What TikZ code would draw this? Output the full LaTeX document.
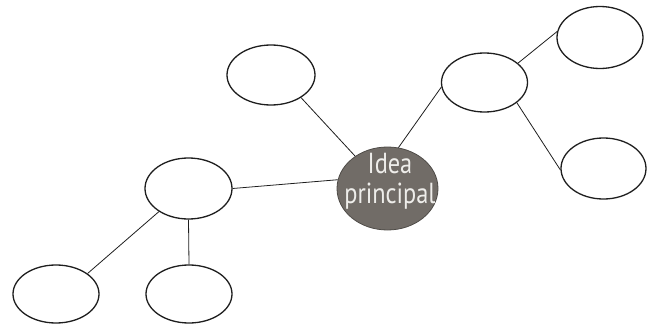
\documentclass[tikz,border=0pt]{standalone}
\usepackage{fontspec}
\setmainfont{PT Sans}
\usetikzlibrary{shapes.geometric}
\definecolor{inkc}{HTML}{1E1E1E}
\definecolor{mainfill}{HTML}{716C67}
\definecolor{maintext}{HTML}{EEEDEA}
\tikzset{
  bubble/.style={ellipse, draw=inkc, line width=1.3pt, inner sep=0pt, minimum width=86pt, minimum height=60pt},
  mainbubble/.style={ellipse, draw=mainfill!70!black, fill=mainfill, line width=0.8pt, inner sep=0pt, minimum width=101pt, minimum height=83pt},
  maintxt/.style={text=maintext, align=center, font=\fontsize{29}{30}\selectfont},
  link/.style={draw=inkc, line width=0.8pt}
}
\begin{document}
\begin{tikzpicture}[x=1pt,y=-1pt]
\useasboundingbox (0,0) rectangle (654,324);
% nodes
\node[mainbubble] (c) at (387.5,188.5) {};
\node[maintxt] (ct) at (390,181) {\scalebox{0.84}[1]{Idea}\\\scalebox{0.84}[1]{principal}};
\node[bubble, minimum width=88pt] (tm) at (271,75) {};
\node[bubble, minimum height=59pt] (rm) at (484.5,82.5) {};
\node[bubble, minimum height=62pt] (tr) at (600,37.5) {};
\node[bubble, minimum width=85pt, minimum height=61pt] (rl) at (603.5,168.5) {};
\node[bubble, minimum width=87pt, minimum height=61pt] (lm) at (188.5,188.5) {};
\node[bubble, minimum height=58pt] (bl) at (56,294) {};
\node[bubble, minimum height=58pt] (br) at (189,294) {};
% connectors
\draw[link] (tm.-37) -- (c.135);
\draw[link] (rm.186) -- (c.75);
\draw[link] (lm.0) -- (c.170);
\draw[link] (lm.south) -- (br.north);
\draw[link] (lm.218) -- (bl.33);
\draw[link] (rm.30) -- (tr.172);
\draw[link] (rm.-32) -- (rl.182);
\end{tikzpicture}
\end{document}
